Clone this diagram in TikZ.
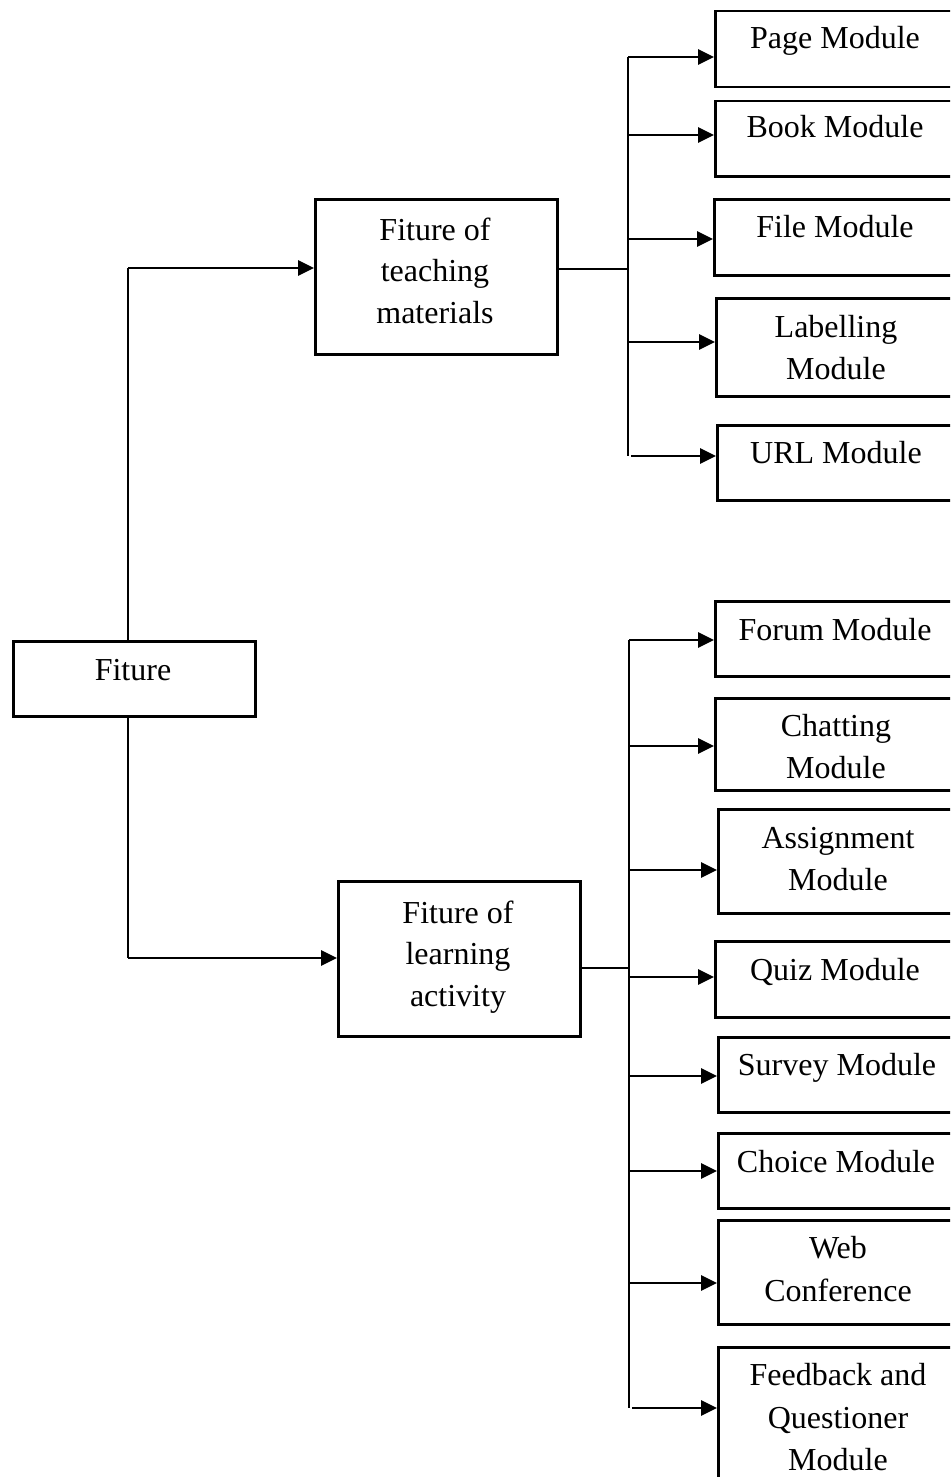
\documentclass[tikz,border=0pt]{standalone}
\usepackage{fontspec}
\setmainfont{Liberation Serif}
\usetikzlibrary{arrows.meta}
\tikzset{
  boxnode/.style={draw=black, line width=2.5pt, inner sep=0pt, anchor=north west, minimum width=242pt},
  txt/.style={inner sep=0pt, anchor=base, font=\fontsize{32}{42}\selectfont},
  conn/.style={line width=2.8pt},
  arr/.style={line width=2.8pt, -{Triangle[length=16pt,width=15pt]}},
}
\newcommand\mybox[4]{\node[boxnode, minimum height=#4] (#1) at (#2,#3) {};}
\newcommand\mytxt[4]{\node[txt] (#1) at (#2,#3) {#4};}
\begin{document}
\begin{tikzpicture}[x=1pt,y=-1pt]
\path[use as bounding box, fill=white] (0,0) rectangle (950,1477);
\clip (0,0) rectangle (950,1477);
% root and middle boxes
\mybox{fiture}{12}{640}{75pt}
\mytxt{tfiture}{133}{680}{Fiture}
\mybox{teach}{314}{198}{155pt}
\mytxt{tteacha}{435}{240}{Fiture of}
\mytxt{tteachb}{435}{281.5}{teaching}
\mytxt{tteachc}{435}{323}{materials}
\mybox{learn}{337}{880}{155pt}
\mytxt{tlearna}{458}{923}{Fiture of}
\mytxt{tlearnb}{458}{964.5}{learning}
\mytxt{tlearnc}{458}{1006}{activity}
% teaching leaves
\mybox{page}{714}{10}{76pt}
\mytxt{tpage}{835}{49}{Page Module}
\mybox{book}{714}{100}{75pt}
\mytxt{tbook}{835}{138}{Book Module}
\mybox{file}{713}{198}{76pt}
\mytxt{tfile}{835}{237}{File Module}
\mybox{label}{715}{297}{98pt}
\mytxt{tlabela}{836}{337}{Labelling}
\mytxt{tlabelb}{836}{379}{Module}
\mybox{url}{716}{424}{75pt}
\mytxt{turl}{836}{463}{URL Module}
% learning leaves
\mybox{forum}{714}{600}{75pt}
\mytxt{tforum}{835}{640}{Forum Module}
\mybox{chat}{714}{697}{92pt}
\mytxt{tchata}{836}{736}{Chatting}
\mytxt{tchatb}{836}{778}{Module}
\mybox{assign}{717}{808}{104pt}
\mytxt{tassigna}{838}{848}{Assignment}
\mytxt{tassignb}{838}{890}{Module}
\mybox{quiz}{714}{940}{76pt}
\mytxt{tquiz}{835}{980}{Quiz Module}
\mybox{survey}{717}{1036}{75pt}
\mytxt{tsurvey}{837}{1075}{Survey Module}
\mybox{choice}{717}{1132}{75pt}
\mytxt{tchoice}{836}{1172}{Choice Module}
\mybox{web}{717}{1219}{104pt}
\mytxt{tweba}{838}{1258}{Web}
\mytxt{twebb}{838}{1301}{Conference}
\mybox{feed}{717}{1346}{150pt}
\mytxt{tfeeda}{838}{1385}{Feedback and}
\mytxt{tfeedb}{838}{1428}{Questioner}
\mytxt{tfeedc}{838}{1470}{Module}
% root connectors
\coordinate (rt) at (128,268);
\coordinate (rb) at (128,958);
\draw[conn] (fiture.north -| rt) -- (rt);
\draw[arr] (rt) -- (rt -| teach.west);
\draw[conn] (fiture.south -| rb) -- (rb);
\draw[arr] (rb) -- (rb -| learn.west);
% teaching trunk
\coordinate (ta) at (628,269);
\coordinate (t1) at (628,57);
\coordinate (t2) at (628,135);
\coordinate (t3) at (628,239);
\coordinate (t4) at (628,342);
\coordinate (t5) at (628,456);
\coordinate (t5s) at (631,456);
\draw[conn] (teach.east |- ta) -- (ta);
\draw[conn] (t1) -- (t5);
\draw[arr] (t1) -- (t1 -| page.west);
\draw[arr] (t2) -- (t2 -| book.west);
\draw[arr] (t3) -- (t3 -| file.west);
\draw[arr] (t4) -- (t4 -| label.west);
\draw[arr] (t5s) -- (t5s -| url.west);
% learning trunk
\coordinate (la) at (629,968);
\coordinate (l1) at (629,640);
\coordinate (l2) at (629,746);
\coordinate (l3) at (629,870);
\coordinate (l4) at (629,977);
\coordinate (l5) at (629,1076);
\coordinate (l6) at (629,1171);
\coordinate (l7) at (629,1283);
\coordinate (l8) at (629,1408);
\coordinate (l8s) at (632,1408);
\draw[conn] (learn.east |- la) -- (la);
\draw[conn] (l1) -- (l8);
\draw[arr] (l1) -- (l1 -| forum.west);
\draw[arr] (l2) -- (l2 -| chat.west);
\draw[arr] (l3) -- (l3 -| assign.west);
\draw[arr] (l4) -- (l4 -| quiz.west);
\draw[arr] (l5) -- (l5 -| survey.west);
\draw[arr] (l6) -- (l6 -| choice.west);
\draw[arr] (l7) -- (l7 -| web.west);
\draw[arr] (l8s) -- (l8s -| feed.west);
\end{tikzpicture}
\end{document}
